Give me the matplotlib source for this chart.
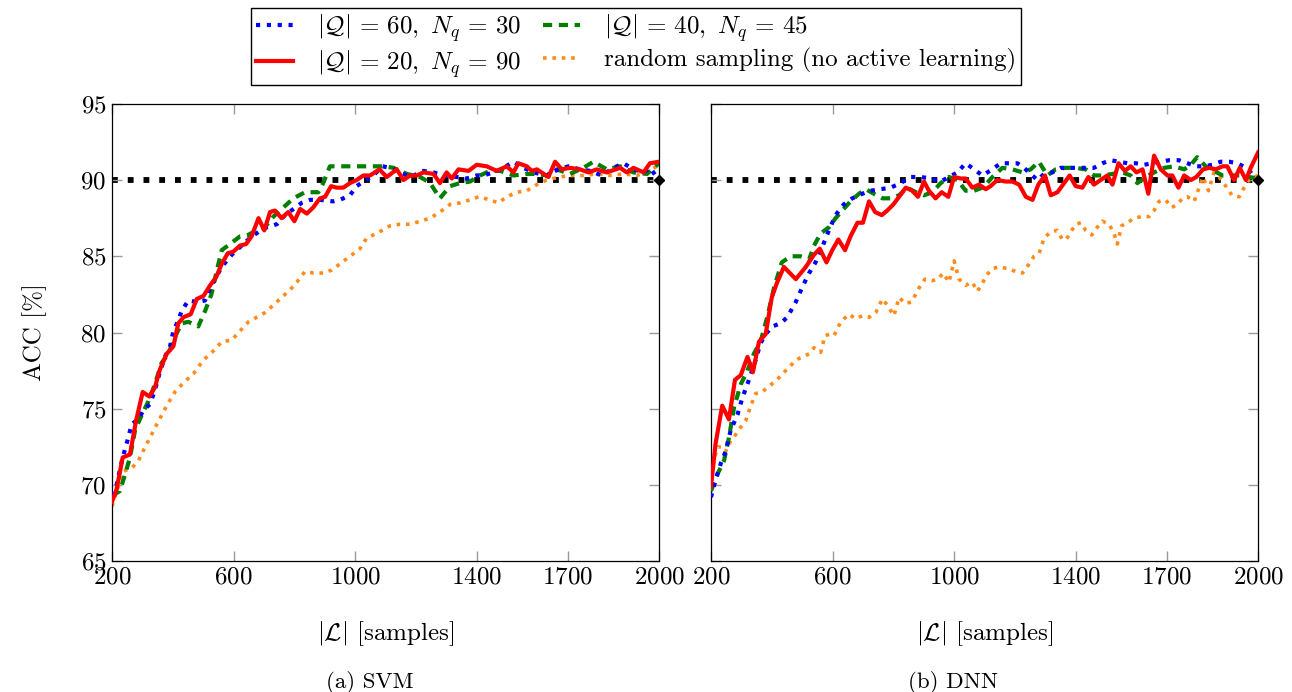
import numpy as np
import matplotlib.pyplot as plt

plt.rcParams['font.family'] = ['cmr10', 'DejaVu Serif']
plt.rcParams['mathtext.fontset'] = 'cm'
plt.rcParams['axes.formatter.use_mathtext'] = True

# ---- SVM ----
svm_red_x = [200, 215, 235, 259, 279, 301, 323, 341, 358, 380, 402, 418, 435, 459, 479, 501, 523, 542, 561, 581,
             599, 621, 641, 659, 682, 701, 720, 736, 758, 780, 800, 819, 841, 862, 884, 901, 921, 939, 961, 983,
             1005, 1027, 1049, 1080, 1104, 1137, 1159, 1181, 1203, 1225, 1258, 1279, 1301, 1318, 1340, 1373, 1400,
             1433, 1466, 1499, 1521, 1537, 1565, 1581, 1598, 1636, 1658, 1680, 1707, 1740, 1768, 1795, 1828, 1872,
             1894, 1916, 1949, 1970, 2000]
svm_red_y = [68.9, 69.7, 71.8, 72.0, 74.2, 76.1, 75.8, 76.4, 77.6, 78.6, 79.1, 80.6, 81.0, 81.2, 82.2, 82.4, 83.1,
             83.6, 84.5, 85.2, 85.3, 85.7, 85.8, 86.3, 87.5, 86.7, 87.9, 88.0, 87.5, 87.9, 87.3, 88.1, 87.8, 88.2,
             88.8, 88.9, 89.6, 89.5, 89.5, 89.8, 90.0, 90.3, 90.3, 90.7, 90.2, 90.7, 90.0, 90.3, 90.3, 90.5, 90.4,
             89.8, 90.5, 90.1, 90.7, 90.6, 91.0, 90.9, 90.6, 90.9, 90.5, 91.1, 90.9, 90.6, 90.7, 90.2, 91.2, 90.7,
             90.8, 90.7, 90.5, 90.7, 90.5, 90.8, 90.5, 90.8, 90.5, 91.1, 91.2]

svm_blue_x = [200, 215, 235, 248, 265, 287, 303, 325, 341, 356, 374, 391, 402, 418, 429, 451, 479, 506, 522, 539,
              561, 594, 621, 654, 682, 709, 742, 769, 797, 824, 852, 884, 928, 950, 983, 1005, 1027, 1060, 1090,
              1115, 1148, 1181, 1225, 1258, 1290, 1334, 1367, 1400, 1422, 1455, 1488, 1521, 1554, 1587, 1630, 1669,
              1702, 1740, 1773, 1811, 1850, 1883, 1916, 1949, 1970, 2000]
svm_blue_y = [69.3, 70.0, 71.8, 72.7, 74.0, 74.3, 74.9, 75.3, 76.2, 77.3, 78.4, 79.1, 80.1, 80.8, 81.4, 82.1, 82.0,
              82.1, 82.9, 83.5, 84.3, 85.1, 85.6, 86.2, 86.6, 86.9, 87.1, 87.7, 88.1, 88.5, 88.7, 88.7, 88.6, 88.7,
              89.0, 89.6, 89.9, 90.3, 90.9, 90.8, 90.5, 90.2, 90.6, 90.5, 90.3, 90.2, 90.1, 90.3, 90.3, 90.5, 90.8,
              91.2, 90.8, 90.5, 90.3, 90.7, 90.9, 90.7, 90.6, 90.3, 90.8, 91.1, 90.7, 90.5, 90.8, 90.0]

svm_green_x = [200, 226, 243, 259, 276, 298, 320, 341, 363, 385, 407, 429, 451, 484, 506, 527, 544, 561, 588, 621,
               648, 676, 703, 731, 758, 797, 835, 879, 895, 917, 983, 1038, 1093, 1126, 1170, 1214, 1247, 1279,
               1312, 1345, 1378, 1411, 1444, 1477, 1521, 1565, 1598, 1630, 1663, 1707, 1751, 1784, 1828, 1872,
               1916, 1960, 2000]
svm_green_y = [69.3, 69.6, 70.7, 71.8, 73.6, 74.6, 75.5, 76.6, 78.0, 78.6, 79.7, 80.6, 80.7, 80.4, 81.4, 82.5,
               84.0, 85.4, 85.8, 86.3, 86.4, 86.7, 86.9, 87.6, 88.1, 88.8, 89.2, 89.2, 89.8, 90.9, 90.9, 90.9,
               90.9, 90.8, 90.4, 90.2, 89.8, 88.8, 89.6, 89.8, 89.9, 90.3, 90.6, 90.6, 90.3, 90.4, 90.4, 90.3,
               90.7, 90.4, 90.8, 91.2, 90.7, 90.9, 90.5, 90.4, 91.1]

svm_orange_x = [200, 221, 237, 265, 287, 309, 325, 353, 380, 407, 435, 468, 501, 534, 561, 594, 621, 649, 676, 703,
                731, 758, 786, 808, 835, 863, 895, 923, 950, 983, 1016, 1038, 1071, 1115, 1148, 1181, 1214, 1247,
                1279, 1312, 1345, 1378, 1406, 1444, 1471, 1499, 1532, 1565, 1598, 1630, 1674, 1707, 1751, 1795,
                1839, 1883, 1927, 1960, 1992]
svm_orange_y = [68.6, 69.9, 70.9, 71.1, 71.6, 72.5, 73.1, 74.2, 75.2, 76.1, 76.7, 77.3, 78.2, 78.8, 79.4, 79.5,
                80.1, 80.7, 81.0, 81.3, 81.8, 82.3, 82.8, 83.3, 84.0, 83.9, 83.9, 84.1, 84.5, 85.0, 85.5, 86.2,
                86.5, 87.0, 87.1, 87.1, 87.3, 87.5, 87.9, 88.4, 88.5, 88.7, 88.9, 88.7, 88.5, 88.9, 89.2, 89.3,
                89.7, 90.0, 90.2, 90.3, 90.3, 90.4, 90.3, 90.4, 90.3, 90.5, 90.9]

# ---- DNN ----
dnn_red_x = [200, 215, 237, 259, 279, 298, 320, 338, 358, 380, 400, 418, 440, 479, 512, 539, 558, 580, 599, 619,
             641, 659, 682, 700, 720, 740, 762, 780, 800, 819, 841, 862, 881, 901, 917, 939, 959, 981, 1000, 1022,
             1038, 1060, 1082, 1104, 1120, 1142, 1170, 1192, 1214, 1236, 1258, 1277, 1299, 1318, 1340, 1362, 1380,
             1400, 1422, 1442, 1460, 1482, 1504, 1521, 1541, 1562, 1581, 1600, 1620, 1639, 1658, 1680, 1702, 1718,
             1738, 1757, 1779, 1797, 1819, 1839, 1861, 1883, 1899, 1921, 1940, 1960, 1976, 2000]
dnn_red_y = [69.9, 72.7, 75.2, 74.3, 76.9, 77.2, 78.4, 77.4, 79.4, 79.9, 82.3, 83.3, 84.3, 83.5, 84.3, 85.1, 85.5,
             84.6, 85.4, 86.1, 85.4, 86.3, 87.2, 87.2, 88.6, 87.9, 87.7, 88.0, 88.4, 88.9, 89.5, 89.3, 88.9, 89.9,
             89.3, 88.8, 89.2, 88.9, 90.2, 90.1, 90.1, 89.5, 89.7, 89.4, 89.6, 90.0, 89.9, 89.9, 89.7, 88.9, 88.7,
             89.7, 90.3, 89.0, 89.2, 89.8, 90.3, 89.6, 89.5, 90.2, 89.7, 90.0, 90.3, 89.7, 91.1, 90.6, 90.9, 90.5,
             90.7, 89.1, 91.6, 90.7, 90.3, 90.3, 89.5, 90.3, 90.0, 90.2, 90.7, 90.8, 90.7, 90.9, 90.9, 90.0, 90.8,
             90.0, 90.8, 91.8]

dnn_blue_x = [200, 215, 232, 248, 265, 287, 303, 325, 347, 363, 380, 402, 429, 451, 479, 501, 523, 544, 566, 588,
              610, 637, 665, 698, 725, 758, 791, 824, 857, 890, 923, 956, 983, 1011, 1038, 1066, 1093, 1126, 1153,
              1181, 1208, 1230, 1252, 1274, 1296, 1323, 1351, 1378, 1406, 1433, 1460, 1488, 1515, 1543, 1570, 1598,
              1625, 1652, 1680, 1707, 1740, 1768, 1795, 1822, 1850, 1877, 1905, 1932, 1960, 1976, 2000]
dnn_blue_y = [69.2, 70.3, 71.4, 72.2, 73.6, 74.6, 75.7, 76.9, 78.2, 79.3, 79.9, 80.4, 80.6, 81.0, 82.0, 83.0, 83.9,
              84.6, 85.6, 86.7, 87.7, 88.4, 88.8, 89.1, 89.3, 89.4, 89.5, 89.8, 90.2, 90.2, 90.1, 89.9, 90.2, 90.5,
              91.1, 90.7, 90.3, 90.7, 91.1, 91.1, 91.1, 90.8, 90.4, 90.0, 90.4, 90.5, 90.8, 90.8, 90.8, 90.8, 90.8,
              91.1, 91.3, 91.2, 91.1, 91.1, 91.0, 91.1, 91.2, 91.3, 91.3, 91.1, 90.9, 90.9, 91.0, 91.2, 91.2, 91.1,
              90.8, 90.5, 89.9]

dnn_green_x = [200, 221, 243, 259, 276, 298, 320, 341, 363, 385, 407, 433, 462, 495, 523, 539, 561, 588, 610, 632,
               659, 687, 709, 736, 764, 791, 819, 846, 874, 901, 928, 956, 983, 1011, 1038, 1066, 1093, 1104, 1126,
               1159, 1192, 1225, 1252, 1279, 1307, 1334, 1367, 1400, 1433, 1460, 1488, 1521, 1554, 1581, 1603, 1630,
               1658, 1691, 1724, 1757, 1779, 1800, 1828, 1855, 1883, 1916, 1949, 1970, 2000]
dnn_green_y = [69.6, 70.7, 71.6, 73.1, 75.1, 76.6, 77.5, 78.6, 79.4, 81.0, 82.9, 84.6, 85.0, 85.0, 84.8, 85.7, 86.5,
               86.9, 87.5, 88.0, 88.6, 89.1, 89.4, 89.1, 88.8, 88.8, 89.0, 89.5, 89.2, 89.0, 89.2, 89.8, 90.2, 90.0,
               89.3, 89.3, 89.5, 89.7, 90.2, 90.8, 90.7, 90.5, 90.7, 91.2, 90.3, 90.7, 90.8, 90.8, 90.7, 90.3, 90.3,
               90.4, 90.5, 90.3, 89.8, 90.2, 90.5, 90.8, 90.9, 90.7, 91.0, 91.5, 90.9, 90.6, 90.3, 90.3, 90.3, 90.2,
               90.1]

dnn_orange_x = [200, 210, 221, 237, 248, 265, 281, 298, 314, 331, 347, 369, 391, 413, 435, 457, 479, 501, 523, 539,
                561, 575, 594, 605, 627, 654, 676, 698, 720, 742, 764, 780, 802, 819, 839, 860, 884, 904, 928, 947,
                964, 983, 1000, 1016, 1038, 1060, 1076, 1093, 1104, 1126, 1148, 1175, 1203, 1225, 1247, 1263, 1280,
                1296, 1318, 1340, 1356, 1369, 1384, 1400, 1417, 1433, 1453, 1471, 1488, 1510, 1526, 1537, 1551, 1570,
                1592, 1617, 1641, 1658, 1674, 1696, 1716, 1735, 1751, 1768, 1790, 1806, 1819, 1837, 1855, 1872, 1894,
                1914, 1938, 1954, 1970, 2000]
dnn_orange_y = [70.7, 71.6, 72.5, 72.5, 72.2, 72.9, 73.3, 73.8, 74.2, 75.2, 76.0, 76.1, 76.5, 76.8, 77.3, 77.7,
                78.2, 78.4, 78.6, 79.0, 78.7, 79.8, 79.9, 79.8, 80.7, 81.2, 80.9, 81.1, 81.0, 81.3, 82.2, 81.8, 81.1,
                82.3, 81.9, 82.0, 82.9, 83.5, 83.4, 83.5, 83.9, 83.3, 84.7, 83.5, 83.1, 83.3, 82.7, 83.2, 83.7, 84.2,
                84.3, 84.2, 84.0, 83.9, 84.5, 85.0, 85.2, 86.2, 86.6, 86.7, 86.1, 86.1, 86.6, 87.1, 87.2, 86.7, 86.4,
                86.9, 87.3, 87.1, 86.5, 85.8, 87.0, 87.2, 87.5, 87.6, 87.6, 88.0, 88.6, 88.7, 88.2, 88.4, 88.8, 88.9,
                88.6, 89.5, 90.2, 89.3, 90.5, 90.2, 89.6, 89.0, 88.9, 89.5, 90.0, 90.3]

labels = [r'$|\mathcal{Q}|\,=\,60,\ N_q\,=\,30$', r'$|\mathcal{Q}|\,=\,20,\ N_q\,=\,90$',
          r'$|\mathcal{Q}|\,=\,40,\ N_q\,=\,45$', 'random sampling (no active learning)']
captions = ['(a) SVM', '(b) DNN']
xticks = [200, 600, 1000, 1400, 1700, 2000]
yticks = [65, 70, 75, 80, 85, 90, 95]
target = 90

fig = plt.figure(figsize=(12.92, 6.92), dpi=100)
ax1 = fig.add_axes([0.0867, 0.189, 0.4234, 0.661])
ax2 = fig.add_axes([0.5503, 0.189, 0.4234, 0.661])

panels = [
    (ax1, svm_blue_x, svm_blue_y, svm_red_x, svm_red_y, svm_green_x, svm_green_y, svm_orange_x, svm_orange_y),
    (ax2, dnn_blue_x, dnn_blue_y, dnn_red_x, dnn_red_y, dnn_green_x, dnn_green_y, dnn_orange_x, dnn_orange_y),
]

handles = []
for ax, bx, by, rx, ry, gx, gy, ox, oy in panels:
    ax.plot([200, 2000], [target, target], color='black', lw=4.2, ls=(0, (1, 1.7)), zorder=1)
    ax.plot([2000], [target], marker='D', color='black', ms=5, zorder=6, clip_on=False)
    ho, = ax.plot(ox, oy, color='#ff8c1a', lw=2.6, ls=(0, (1, 1.6)), zorder=2)
    hg, = ax.plot(gx, gy, color='#007f00', lw=3, ls=(0, (2.2, 1.6)), zorder=3)
    hb, = ax.plot(bx, by, color='blue', lw=3, ls=(0, (1, 1.6)), zorder=4)
    hr, = ax.plot(rx, ry, color='red', lw=3, zorder=5)
    handles = [hb, hr, hg, ho]
    ax.set_xlim(200, 2000)
    ax.set_ylim(65, 95)
    ax.set_xticks(xticks)
    ax.set_yticks(yticks)
    ax.tick_params(direction='in', length=7, width=1, color='#999999', top=True, right=True,
                   labelsize=18, pad=4)
    for s in ax.spines.values():
        s.set_linewidth(0.9)
    ax.set_xlabel(r'$|\mathcal{L}|$ [samples]', fontsize=18)
    ax.xaxis.set_label_coords(0.5, -0.158)
    ax.xaxis.label.set_va('center')

ax2.set_yticklabels([])
ax1.set_ylabel('ACC [%]', fontsize=18)
ax1.yaxis.set_label_coords(-0.141, 0.5)
ax1.yaxis.label.set_va('center')

fig.text(370 / 1292, 1 - 683 / 692, captions[0], ha='center', va='center', fontsize=16.5)
fig.text(953 / 1292, 1 - 683 / 692, captions[1], ha='center', va='center', fontsize=16.5)

fig.legend(handles, labels, loc='upper center', bbox_to_anchor=(0.4923, 1.0), ncol=2, fontsize=18,
           frameon=True, fancybox=False, edgecolor='black', framealpha=1, handlelength=1.5,
           columnspacing=0.85, handletextpad=0.95, borderpad=0.2, labelspacing=0.15,
           borderaxespad=0.3)

plt.savefig('out.png', dpi=100)
